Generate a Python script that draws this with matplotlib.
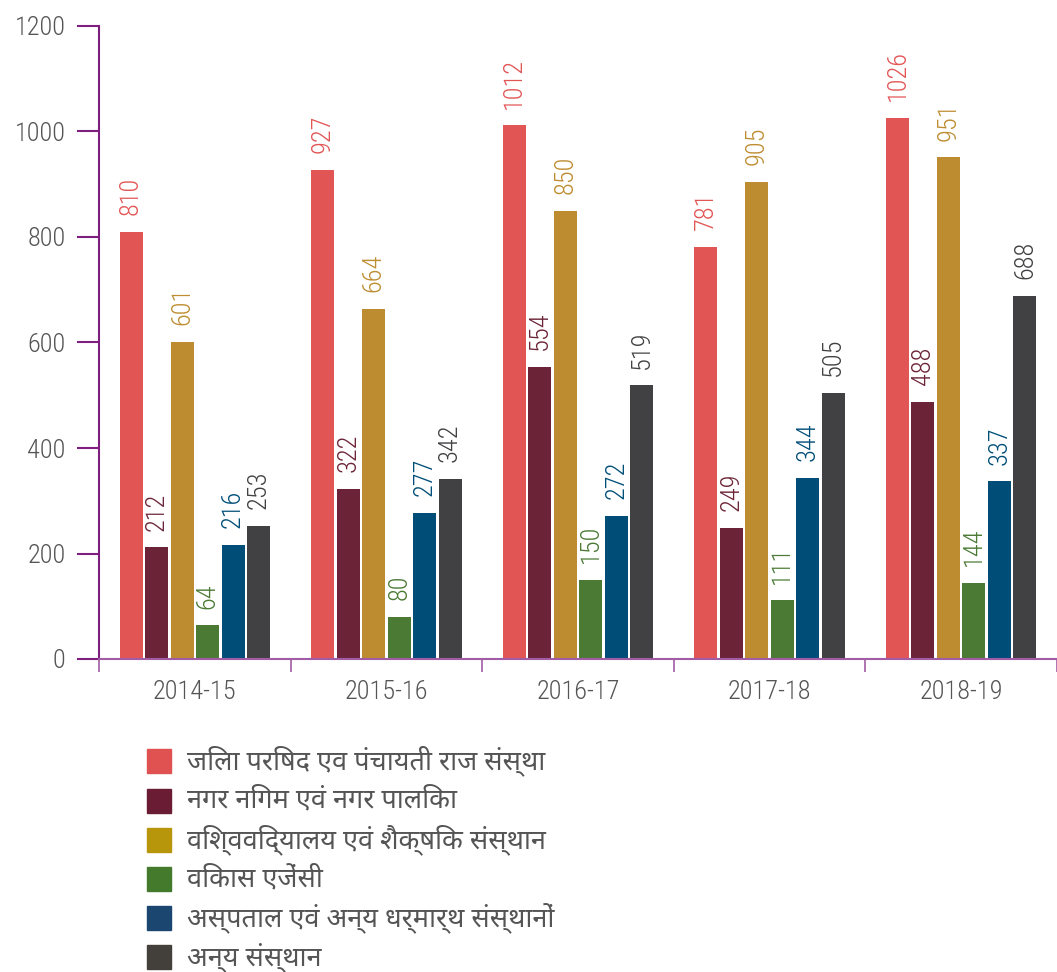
import matplotlib
matplotlib.use("Agg")
import matplotlib.pyplot as plt
from matplotlib.patches import Rectangle
import numpy as np

years = ["2014-15", "2015-16", "2016-17", "2017-18", "2018-19"]
series_names = [
    "जिला परिषद एव पंचायती राज संस्था",
    "नगर निगम एवं नगर पालिका",
    "विश्वविद्यालय एवं शैक्षिक संस्थान",
    "विकास एजेंसी",
    "अस्पताल एवं अन्य धर्मार्थ संस्थानों",
    "अन्य संस्थान",
]
zila = [810, 927, 1012, 781, 1026]
nagar = [212, 322, 554, 249, 488]
vishwa = [601, 664, 850, 905, 951]
vikas = [64, 80, 150, 111, 144]
aspatal = [216, 277, 272, 344, 337]
anya = [253, 342, 519, 505, 688]
yticks = [0, 200, 400, 600, 800, 1000, 1200]

series = [zila, nagar, vishwa, vikas, aspatal, anya]
bar_colors = ["#E25555", "#6B2437", "#BE8C30", "#4B7A35", "#004E78", "#414144"]
legend_colors = ["#E05252", "#6A1C35", "#B8960C", "#437A2C", "#1A4670", "#433F3B"]

NUM_FONT = ["Roboto Condensed", "DejaVu Sans"]
DEV_FONT = ["Noto Sans Devanagari", "DejaVu Sans"]

W, H = 1057, 972
fig = plt.figure(figsize=(W / 100, H / 100), dpi=100)
ax = fig.add_axes([99 / W, 313 / H, (W - 99) / W, (659 - 26) / H])

x = np.arange(len(years))
pitch = 0.133
width = 0.12
for k, (vals, col) in enumerate(zip(series, bar_colors)):
    pos = x + (k - 2.5) * pitch
    bars = ax.bar(pos, vals, width=width, color=col, zorder=2)
    for b, v in zip(bars, vals):
        ax.annotate(str(v), (b.get_x() + b.get_width() / 2, v),
                    xytext=(0, 12), textcoords="offset points",
                    rotation=90, ha="center", va="bottom",
                    fontsize=19, color=col, family=NUM_FONT, fontweight="light")

ax.set_ylim(0, 1200)
ax.set_xlim(-0.5, 4.49)
ax.set_yticks(yticks)
ax.set_yticklabels([str(t) for t in yticks], family=NUM_FONT, fontsize=19,
                   color="#555555", fontweight="light")
ax.tick_params(axis="y", direction="out", length=16, width=1.5, color="#7E1F7F", pad=8)

ax.set_xticks(np.arange(-0.5, 5, 1.0))
ax.set_xticklabels([])
ax.tick_params(axis="x", which="major", direction="out", length=9, width=1.2, color="#A25BA5")
ax.set_xticks(x, minor=True)
ax.set_xticklabels(years, minor=True, family=NUM_FONT, fontsize=19,
                   color="#555555", fontweight="light")
ax.tick_params(axis="x", which="minor", length=0, pad=15)

for s in ["top", "right"]:
    ax.spines[s].set_visible(False)
ax.spines["left"].set_color("#7E1F7F")
ax.spines["left"].set_linewidth(1.5)
ax.spines["bottom"].set_color("#A25BA5")
ax.spines["bottom"].set_linewidth(1.5)

# legend
row_y = [761, 800.5, 840, 879, 918, 957]
for name, col, ry in zip(series_names, legend_colors, row_y):
    fig.add_artist(Rectangle((147 / W, (H - ry - 12) / H), 24 / W, 24 / H,
                             transform=fig.transFigure, color=col))
    fig.text(187 / W, (H - ry) / H, name, family=DEV_FONT, fontsize=19.5,
             color="#555555", va="center", ha="left", fontweight="light")

fig.savefig("out.png", dpi=100)
